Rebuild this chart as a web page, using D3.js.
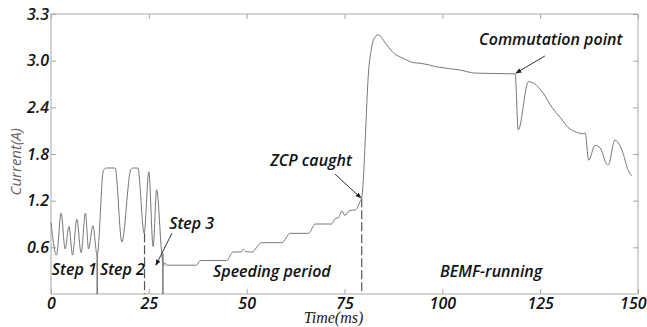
<!DOCTYPE html>
<html>
<head>
<meta charset="utf-8">
<script src="https://cdn.jsdelivr.net/npm/d3@7"></script>
<style>
  html, body { margin: 0; padding: 0; background: #fff; }
  svg { display: block; }
  .lbl { font-family: 'Open Sans', sans-serif; font-style: italic; font-weight: 600; fill: #111; }
</style>
</head>
<body>
<svg id="chart" width="647" height="327"></svg>
<script>
'use strict';

// phase current of the start-up sequence
const timeMs = [
  0.0, 1.4, 2.6, 3.6, 4.6, 5.5, 6.6, 7.7, 8.8, 9.6, 10.7, 11.8,
  13.4, 14.2, 16.4, 18.1, 20.4, 21.0, 22.2, 23.8, 25.0, 26.1, 27.0, 28.3,
  28.7, 29.1, 29.6, 37.2, 38.1, 44.9, 46.5, 48.6, 49.1, 49.8, 51.3, 53.8,
  59.0, 61.1, 65.8, 67.5, 71.7, 72.6, 73.5, 74.3, 75.1, 76.4, 77.7, 79.0,
  79.4, 81.3, 81.9, 82.4, 83.6, 85.8, 87.5, 90.0, 92.6, 94.7, 98.6, 104.5,
  108.4, 118.6, 119.4, 122.0, 124.1, 125.8, 128.0, 130.1, 132.2, 134.3, 136.0, 136.5,
  137.4, 139.0, 140.3, 142.0, 142.4, 144.1, 145.9, 147.5, 148.4
];
const currentA = [
  0.92, 0.50, 1.04, 0.58, 0.87, 0.50, 0.96, 0.53, 1.04, 0.58, 0.88, 0.50,
  1.59, 1.62, 1.62, 0.67, 1.60, 1.62, 1.62, 0.78, 1.57, 0.61, 1.34, 0.52,
  0.36, 0.40, 0.37, 0.37, 0.43, 0.43, 0.54, 0.54, 0.575, 0.545, 0.54, 0.66,
  0.66, 0.78, 0.78, 0.90, 0.90, 0.97, 0.98, 1.07, 1.01, 1.075, 1.08, 1.19,
  1.24, 2.95, 3.08, 3.134, 3.166, 3.10, 3.05, 3.015, 2.975, 2.965, 2.92, 2.88,
  2.84, 2.83, 2.11, 2.73, 2.68, 2.58, 2.40, 2.27, 2.14, 2.08, 2.06, 2.07,
  1.72, 1.91, 1.88, 1.67, 1.66, 1.98, 1.85, 1.59, 1.52
];

// vertical phase markers: time, top current, dashed?
const markerTime = [11.8, 23.9, 28.6, 79.4];
const markerTop = [0.50, 0.78, 0.52, 1.23];
const markerDash = [false, true, false, true];

const xTicks = [0, 25, 50, 75, 100, 125, 150];
const yTicks = [0.6, 1.2, 1.8, 2.4, 3.0, 3.3];
// the y axis is drawn with equally spaced ticks, top step is 0.3
const yBreaks = [0, 0.6, 1.2, 1.8, 2.4, 3.0, 3.3];

const noteText = ['Step 1', 'Step 2', 'Step 3', 'Speeding period', 'BEMF-running', 'ZCP caught', 'Commutation point'];
const noteTime = [0.2, 12.5, 30.2, 41.4, 99.4, 56.0, 109.4];
const noteCurrent = [0.24, 0.24, 0.835, 0.22, 0.22, 1.65, 3.10];

// arrows: from (time, current) to (time, current)
const arrowFrom = [[30.9, 0.78], [72.6, 1.54], [126.2, 3.03]];
const arrowTo = [[26.8, 0.37], [79.2, 1.235], [118.8, 2.84]];

const width = 647;
const height = 327;
const margin = { top: 14, right: 9, bottom: 33, left: 51 };
const innerW = width - margin.left - margin.right;
const innerH = height - margin.top - margin.bottom;
const TICK = 5;

const svg = d3.select('#chart');
const g = svg.append('g')
  .attr('transform', 'translate(' + margin.left + ',' + margin.top + ')');

const x = d3.scaleLinear().domain([0, 150]).range([0, innerW]);
const y = d3.scaleLinear()
  .domain(yBreaks)
  .range(yBreaks.map((d, i) => innerH - i * innerH / (yBreaks.length - 1)));

svg.append('defs').append('marker')
  .attr('id', 'arrow')
  .attr('viewBox', '0 0 10 10')
  .attr('refX', 9)
  .attr('refY', 5)
  .attr('markerWidth', 6)
  .attr('markerHeight', 6)
  .attr('orient', 'auto')
  .append('path')
  .attr('d', 'M0,1L10,5L0,9Z')
  .attr('fill', '#222');

// frame
g.append('rect')
  .attr('width', innerW)
  .attr('height', innerH)
  .attr('fill', 'none')
  .attr('stroke', '#a8a8a8')
  .attr('stroke-width', 1);

// inward ticks on all four sides
function styleAxis(sel) {
  sel.select('.domain').remove();
  sel.selectAll('.tick line').attr('stroke', '#a8a8a8');
  sel.selectAll('.tick text')
    .attr('class', 'lbl')
    .style('font-size', '16px');
}

const xAxisG = g.append('g')
  .attr('transform', 'translate(0,' + innerH + ')')
  .call(d3.axisBottom(x).tickValues(xTicks).tickSizeInner(-TICK).tickPadding(TICK - 1))
  .call(styleAxis);
// keep the last label inside the page
xAxisG.selectAll('.tick text')
  .filter(d => d === 150)
  .attr('text-anchor', 'end')
  .attr('dx', 8);

g.append('g')
  .call(d3.axisTop(x).tickValues(xTicks).tickSizeInner(-TICK).tickFormat(''))
  .call(styleAxis);

g.append('g')
  .call(d3.axisLeft(y).tickValues(yTicks).tickSizeInner(-TICK).tickPadding(2).tickFormat(d3.format('.1f')))
  .call(styleAxis);

g.append('g')
  .attr('transform', 'translate(' + innerW + ',0)')
  .call(d3.axisRight(y).tickValues(yTicks).tickSizeInner(-TICK).tickFormat(''))
  .call(styleAxis);

// phase markers
g.selectAll('.phase-marker')
  .data(markerTime)
  .enter()
  .append('line')
  .attr('class', 'phase-marker')
  .attr('x1', d => x(d))
  .attr('x2', d => x(d))
  .attr('y1', (d, i) => y(markerTop[i]))
  .attr('y2', y(0))
  .attr('stroke', '#555')
  .attr('stroke-width', 1.2)
  .attr('stroke-dasharray', (d, i) => markerDash[i] ? '9,3' : null);

// current trace
const line = d3.line()
  .x(d => x(d[0]))
  .y(d => y(d[1]))
  .curve(d3.curveMonotoneX);

g.append('path')
  .datum(timeMs.map((t, i) => [t, currentA[i]]))
  .attr('d', line)
  .attr('fill', 'none')
  .attr('stroke', '#777')
  .attr('stroke-width', 1);

// annotations
g.selectAll('.note')
  .data(noteText)
  .enter()
  .append('text')
  .attr('class', 'lbl note')
  .attr('x', (d, i) => x(noteTime[i]))
  .attr('y', (d, i) => y(noteCurrent[i]))
  .style('font-size', '16px')
  .text(d => d);

g.selectAll('.note-arrow')
  .data(arrowFrom)
  .enter()
  .append('line')
  .attr('class', 'note-arrow')
  .attr('x1', d => x(d[0]))
  .attr('y1', d => y(d[1]))
  .attr('x2', (d, i) => x(arrowTo[i][0]))
  .attr('y2', (d, i) => y(arrowTo[i][1]))
  .attr('stroke', '#333')
  .attr('stroke-width', 1)
  .attr('marker-end', 'url(#arrow)');

// axis titles
svg.append('text')
  .attr('x', margin.left + x(72.2))
  .attr('y', 323)
  .attr('text-anchor', 'middle')
  .style('font-family', "'Liberation Serif', 'DejaVu Serif', serif")
  .style('font-style', 'italic')
  .style('font-size', '16px')
  .attr('fill', '#222')
  .text('Time(ms)');

svg.append('text')
  .attr('transform', 'translate(21,' + (margin.top + y(1.7)) + ') rotate(-90)')
  .attr('text-anchor', 'middle')
  .style('font-family', "'Open Sans', sans-serif")
  .style('font-style', 'italic')
  .style('font-size', '15px')
  .attr('fill', '#666')
  .text('Current(A)');
</script>
</body>
</html>
